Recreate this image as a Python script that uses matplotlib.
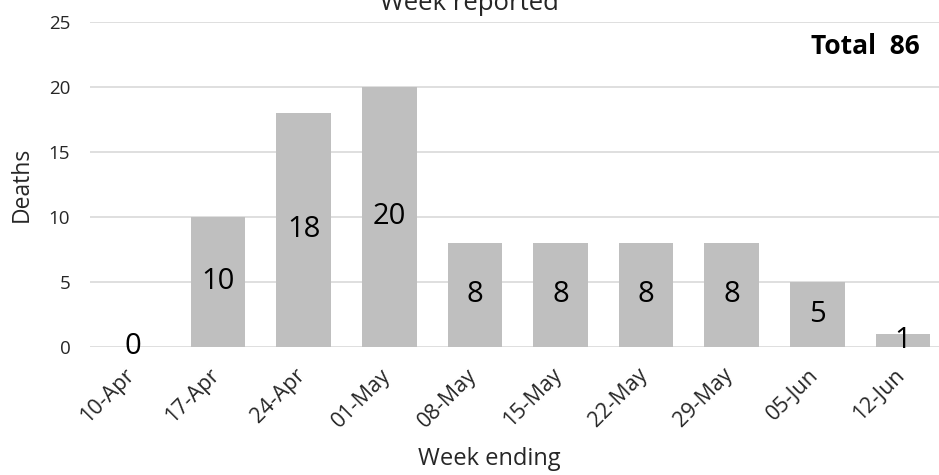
import matplotlib.pyplot as plt
import matplotlib.transforms as mtransforms

weeks = ["10-Apr", "17-Apr", "24-Apr", "01-May", "08-May", "15-May",
         "22-May", "29-May", "05-Jun", "12-Jun"]
deaths = [0, 10, 18, 20, 8, 8, 8, 8, 5, 1]
total = 86
y_ticks = [0, 5, 10, 15, 20, 25]


def main():
    plt.rcParams['font.family'] = ['Open Sans', 'DejaVu Sans']

    fig = plt.figure(figsize=(9.39, 4.75), dpi=100)
    # plot area runs slightly past the right edge, as in the source image
    ax = fig.add_axes([89.7 / 939, 1 - 346.7 / 475, 856 / 939, (346.7 - 22) / 475])

    x = list(range(len(weeks)))
    ax.bar(x, deaths, width=0.64, color='#BFBFBF', zorder=2)

    # value labels centred in each bar
    for xi, d in zip(x, deaths):
        ax.text(xi, d / 2, str(d), ha='center', va='center', fontsize=21, color='black', zorder=3)

    ax.set_xlim(-0.5, len(weeks) - 0.5)
    ax.set_ylim(0, 25)
    ax.set_yticks(y_ticks)
    ax.set_yticklabels([str(v) for v in y_ticks], fontsize=13.5, color='#262626')
    ax.set_xticks(x)
    ax.set_xticklabels(weeks, fontsize=15.5, rotation=45, ha='right', rotation_mode='anchor', color='#262626')
    ax.tick_params(axis='both', length=0)
    ax.tick_params(axis='y', pad=14)
    ax.tick_params(axis='x', pad=10)

    # nudge rotated labels so their ends sit on the bar centres (Excel style)
    shift = mtransforms.ScaledTranslation(-9 / 100, -4 / 100, fig.dpi_scale_trans)
    for lbl in ax.get_xticklabels():
        lbl.set_transform(lbl.get_transform() + shift)

    ax.grid(axis='y', color='#D9D9D9', linewidth=1.2, zorder=0)
    for s in ax.spines.values():
        s.set_visible(False)

    fig.text(22 / 939, 1 - 184 / 475, "Deaths", rotation=90, ha='center', va='center', fontsize=16.5, color='#262626')
    fig.text(0.5, 1 - 10 / 475, "Week reported", ha='center', va='baseline', fontsize=18.5, color='#262626')
    fig.text(489.5 / 939, 1 - 459 / 475, "Week ending", ha='center', va='center', fontsize=17, color='#262626')
    fig.text(920 / 939, 1 - 46 / 475, "Total  " + str(total), ha='right', va='center',
             fontsize=19, fontweight='bold', color='black')

    fig.savefig("out.png", dpi=100)


if __name__ == "__main__":
    main()
